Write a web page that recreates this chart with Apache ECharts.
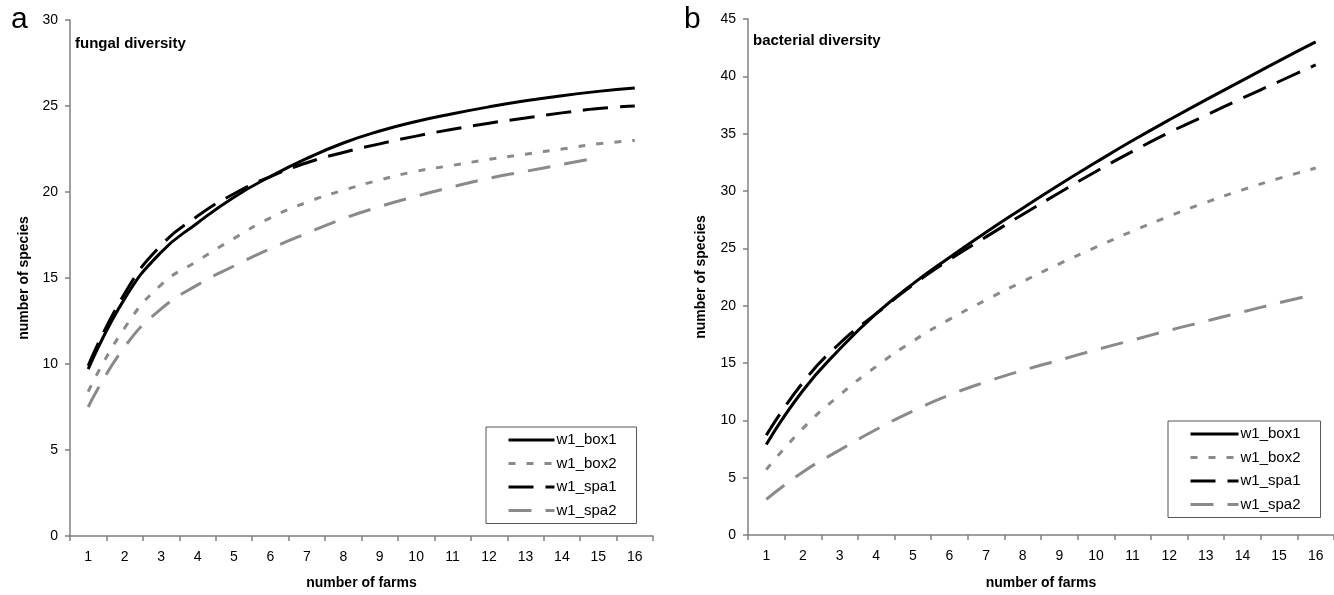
<!DOCTYPE html>
<html>
<head>
<meta charset="utf-8">
<script src="https://cdn.jsdelivr.net/npm/echarts@6/dist/echarts.min.js"></script>
<style>
  html, body { margin: 0; padding: 0; background: #fff; }
  #chart { width: 1334px; height: 595px; }
</style>
</head>
<body>
<div id="chart"></div>
<script>
// categories (number of farms)
const farms = ['1','2','3','4','5','6','7','8','9','10','11','12','13','14','15','16'];
const seriesNames = ['w1_box1', 'w1_box2', 'w1_spa1', 'w1_spa2'];

// panel a: fungal diversity
const fungalBox1 = [9.7, 13.8, 16.5, 18.2, 19.7, 20.9, 21.95, 22.85, 23.55, 24.1, 24.55, 24.95, 25.3, 25.6, 25.85, 26.05];
const fungalBox2 = [8.4, 12.1, 14.6, 16.0, 17.3, 18.5, 19.4, 20.1, 20.7, 21.2, 21.55, 21.9, 22.2, 22.5, 22.8, 23.0];
const fungalSpa1 = [9.9, 14.1, 16.9, 18.6, 19.9, 20.9, 21.7, 22.3, 22.8, 23.25, 23.65, 24.0, 24.3, 24.6, 24.85, 25.0];
const fungalSpa2 = [7.5, 11.0, 13.2, 14.6, 15.7, 16.7, 17.6, 18.45, 19.15, 19.75, 20.3, 20.8, 21.2, 21.6, 22.0];

// panel b: bacterial diversity
const bactBox1 = [7.9, 12.6, 16.2, 19.3, 21.9, 24.2, 26.4, 28.5, 30.55, 32.5, 34.4, 36.2, 37.95, 39.65, 41.35, 43.0];
const bactBox2 = [5.7, 9.3, 12.2, 14.7, 16.9, 18.8, 20.5, 22.1, 23.65, 25.1, 26.5, 27.8, 29.0, 30.1, 31.1, 32.0];
const bactSpa1 = [8.7, 13.3, 16.7, 19.3, 21.8, 24.0, 26.0, 27.95, 29.85, 31.7, 33.45, 35.1, 36.6, 38.1, 39.55, 41.0];
const bactSpa2 = [3.1, 5.5, 7.4, 9.2, 10.8, 12.2, 13.35, 14.35, 15.25, 16.15, 17.0, 17.85, 18.65, 19.45, 20.25, 21.0];

const FONT = '"Liberation Sans", Arial, Helvetica, sans-serif';
const GREY = '#8a8a8a';
const AXIS = '#808080';

const styles = {
  w1_box1: { color: '#000', width: 3, type: 'solid' },
  w1_box2: { color: GREY, width: 3, type: [7, 11] },
  w1_spa1: { color: '#000', width: 3, type: [25, 12] },
  w1_spa2: { color: GREY, width: 3, type: [23, 14] }
};

function mkSeries(name, data, idx) {
  const s = styles[name];
  return {
    name: name,
    type: 'line',
    xAxisIndex: idx,
    yAxisIndex: idx,
    data: data,
    smooth: 0.5,
    symbol: 'none',
    showSymbol: false,
    silent: true,
    itemStyle: { color: s.color },
    lineStyle: { color: s.color, width: s.width, type: s.type, cap: 'butt' },
    z: name === 'w1_box1' ? 3 : 2
  };
}

function xAxis(idx) {
  return {
    type: 'category',
    gridIndex: idx,
    data: farms,
    boundaryGap: true,
    name: 'number of farms',
    nameLocation: 'middle',
    nameGap: idx === 0 ? 40 : 41,
    nameTextStyle: { fontFamily: FONT, fontSize: 14, fontWeight: 'bold', color: '#000' },
    axisLine: { show: true, lineStyle: { color: AXIS, width: 1.5 } },
    axisTick: { show: true, alignWithLabel: false, length: 5, lineStyle: { color: AXIS, width: 1.5 } },
    axisLabel: { fontFamily: FONT, fontSize: 14, color: '#000', margin: 14, interval: 0 },
    splitLine: { show: false }
  };
}

function yAxis(idx, max) {
  return {
    type: 'value',
    gridIndex: idx,
    min: 0,
    max: max,
    interval: 5,
    name: 'number of species',
    nameLocation: 'middle',
    nameRotate: 90,
    nameGap: idx === 0 ? 39 : 40,
    nameTextStyle: { fontFamily: FONT, fontSize: 14, fontWeight: 'bold', color: '#000' },
    axisLine: { show: true, lineStyle: { color: AXIS, width: 1.5 } },
    axisTick: { show: true, length: 5, lineStyle: { color: AXIS, width: 1.5 } },
    axisLabel: { fontFamily: FONT, fontSize: 14, color: '#000', margin: 12 },
    splitLine: { show: false }
  };
}

function legend(left, top, itemWidth) {
  return {
    orient: 'vertical',
    left: left,
    top: top,
    padding: [5, 20, 5, 21],
    itemGap: 7.5,
    itemWidth: itemWidth,
    itemHeight: 14,
    borderColor: '#555',
    borderWidth: 1,
    selectedMode: false,
    itemStyle: { opacity: 0, borderWidth: 0 },
    lineStyle: { width: 3 },
    data: seriesNames.map(n => ({
      name: n,
      lineStyle: { width: 3, type: styles[n].type, color: styles[n].color }
    })),
    textStyle: { fontFamily: FONT, fontSize: 15, color: '#000', lineHeight: 16, padding: [0, 0, 0, -3] }
  };
}

const chart = echarts.init(document.getElementById('chart'), null, { renderer: 'canvas' });

const option = {
  animation: false,
  backgroundColor: '#fff',
  title: [
    { text: 'a', left: 11, top: 5, textStyle: { fontFamily: FONT, fontSize: 30, fontWeight: 'normal', color: '#000' }, padding: 0 },
    { text: 'b', left: 684, top: 5, textStyle: { fontFamily: FONT, fontSize: 30, fontWeight: 'normal', color: '#000' }, padding: 0 },
    { text: 'fungal diversity', left: 75, top: 36, textStyle: { fontFamily: FONT, fontSize: 15, fontWeight: 'bold', color: '#000' }, padding: 0 },
    { text: 'bacterial diversity', left: 753, top: 33, textStyle: { fontFamily: FONT, fontSize: 15, fontWeight: 'bold', color: '#000' }, padding: 0 }
  ],
  grid: [
    { left: 70, top: 20, width: 583, height: 522.7 },
    { left: 748, top: 19, width: 592, height: 520.3 }
  ],
  xAxis: [xAxis(0), xAxis(1)],
  yAxis: [yAxis(0, 30), yAxis(1, 45)],
  legend: [legend(486, 427, 46), legend(1168, 421, 48)],
  series: [
    mkSeries('w1_box2', fungalBox2, 0),
    mkSeries('w1_spa2', fungalSpa2, 0),
    mkSeries('w1_spa1', fungalSpa1, 0),
    mkSeries('w1_box1', fungalBox1, 0),
    mkSeries('w1_box2', bactBox2, 1),
    mkSeries('w1_spa2', bactSpa2, 1),
    mkSeries('w1_spa1', bactSpa1, 1),
    mkSeries('w1_box1', bactBox1, 1)
  ]
};
chart.setOption(option);
</script>
</body>
</html>
